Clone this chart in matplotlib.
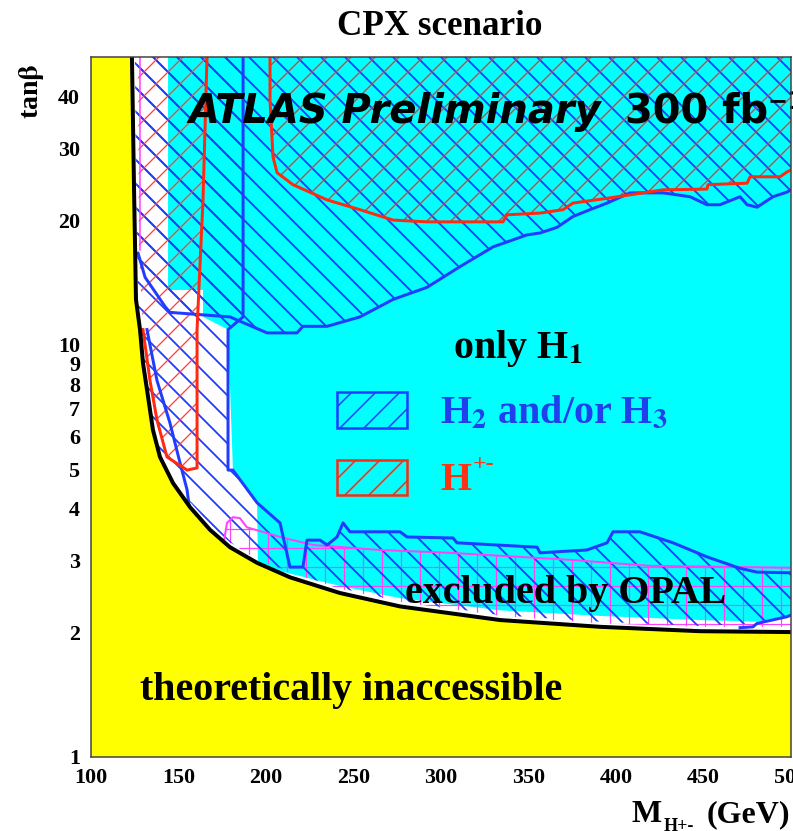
import numpy as np
import matplotlib
matplotlib.use('Agg')
import matplotlib.pyplot as plt
from matplotlib.patches import Polygon, Rectangle
from matplotlib.collections import LineCollection
from matplotlib.ticker import NullLocator

# lower tanb limit (black line), below it: theoretically inaccessible
boundary_m = [123.4, 124.6, 125.7, 128.0, 129.7, 132.6, 135.4, 139.4, 146.9, 156.6,
              168.0, 179.4, 194.9, 213.7, 242.3, 276.6, 333.7, 390.9, 448.0, 500.0]
boundary_tb = [50.0, 23.8, 12.9, 10.9, 9.05, 7.49, 6.22, 5.35, 4.62, 4.04,
               3.56, 3.23, 2.96, 2.73, 2.50, 2.32, 2.15, 2.07, 2.02, 2.01]

# cyan: only H1 observable
cyan_m = [144.0, 500.0, 500.0, 480.6, 448.0, 390.9, 333.7, 276.6, 242.3, 219.4,
          195.4, 194.9, 181.1, 178.3, 164.0, 164.0, 144.0]
cyan_tb = [50.0, 50.0, 2.21, 2.13, 2.15, 2.20, 2.27, 2.43, 2.60, 2.75,
           2.91, 4.14, 4.97, 10.9, 11.7, 13.6, 13.6]

# H2 and/or H3, high tanb region (lower edge)
h23_high_m = [500.0, 497.7, 489.7, 480.6, 474.9, 470.9, 459.4, 452.0, 442.3, 426.9,
              408.0, 394.9, 385.1, 375.4, 366.3, 356.6, 349.1, 329.7, 310.9, 292.0,
              272.6, 253.7, 234.9, 221.1, 217.7, 200.6, 179.4, 145.1, 142.3, 130.9, 126.9]
h23_high_tb = [23.8, 23.5, 22.9, 21.6, 21.9, 22.9, 21.9, 21.9, 22.9, 23.4,
               23.4, 22.1, 21.3, 20.5, 19.3, 18.7, 18.5, 17.3, 15.5, 13.8,
               12.9, 11.7, 11.1, 11.1, 10.7, 10.7, 11.7, 12.0, 12.4, 14.6, 16.7]

# H2 and/or H3, low mass strip + low tanb band (upper edge, then base)
h23_low_m = [186.9, 186.9, 178.3, 178.3, 181.1, 194.9, 208.0, 213.7, 221.1, 223.4,
             230.9, 234.9, 240.6, 244.0, 248.0, 276.6, 280.6, 306.9, 309.1, 354.9,
             356.6, 383.4, 394.9, 398.3, 413.7, 432.6, 452.0, 470.9, 480.6, 500.0]
h23_low_tb = [50.0, 11.7, 10.9, 4.97, 4.97, 4.14, 3.70, 2.89, 2.89, 3.36,
              3.36, 3.27, 3.42, 3.70, 3.52, 3.52, 3.42, 3.40, 3.31, 3.23,
              3.13, 3.18, 3.31, 3.52, 3.52, 3.31, 3.06, 2.87, 2.81, 2.80]
h23_base_m = [500.0, 480.6, 448.0, 390.9, 333.7, 276.6, 242.3, 213.7, 194.9, 179.4,
              168.0, 156.6, 146.9, 139.4, 135.4, 132.6, 129.7, 128.0, 126.9, 125.7, 125.1]
h23_base_tb = [2.21, 2.11, 2.08, 2.13, 2.21, 2.39, 2.57, 2.81, 3.04, 3.32,
               3.66, 4.16, 4.76, 5.50, 6.40, 7.69, 9.30, 11.2, 13.2, 23.8, 50.0]

h23_inner_m = [132.0, 137.7, 145.1, 150.9, 154.9, 156.6, 166.3]
h23_inner_tb = [10.9, 8.2, 6.47, 5.17, 4.45, 3.91, 3.56]
h23_corner_m = [470.9, 478.3, 480.6, 497.7, 500.0]
h23_corner_tb = [2.06, 2.07, 2.11, 2.19, 2.21]

# H+- observable
hpm_high_m = [202.3, 202.3, 204.0, 206.3, 215.4, 234.9, 253.7, 272.6, 292.0, 335.4,
              337.7, 356.6, 369.7, 375.4, 394.9, 426.9, 452.0, 452.6, 474.9, 476.6,
              493.7, 497.7, 500.0]
hpm_high_tb = [50.0, 39.3, 28.6, 26.2, 24.5, 22.5, 21.3, 20.1, 19.9, 19.9,
               20.7, 20.9, 21.3, 22.1, 22.7, 23.8, 23.9, 24.5, 24.7, 25.6,
               25.6, 26.3, 26.6]
hpm_low_m = [166.3, 164.0, 160.6, 160.6, 154.9, 143.4, 137.7, 133.7, 129.7]
hpm_low_tb = [50.0, 22.5, 10.9, 5.03, 4.97, 5.35, 6.58, 8.2, 10.9]
hpm_low_close_m = [127.4, 126.9]
hpm_low_close_tb = [17.0, 50.0]

# excluded by OPAL
opal_top_m = [166.3, 175.4, 177.7, 181.1, 185.1, 189.1, 208.0, 226.9, 265.1, 305.1,
              373.7, 419.4, 500.0]
opal_top_tb = [3.36, 3.23, 3.70, 3.82, 3.80, 3.61, 3.42, 3.27, 3.18, 3.13,
               3.01, 2.91, 2.88]
opal_bot_m = [500.0, 448.0, 390.9, 333.7, 276.6, 242.3, 213.7, 194.9, 179.4, 166.3]
opal_bot_tb = [2.07, 2.07, 2.11, 2.20, 2.38, 2.56, 2.80, 3.02, 3.31, 3.52]
opal_left_m = [128.0, 128.0]
opal_left_tb = [50.0, 17.0]

xticks = [100, 150, 200, 250, 300, 350, 400, 450, 500]
yticks = [1, 2, 3, 4, 5, 6, 7, 8, 9, 10, 20, 30, 40]

CYAN = '#00ffff'
YELLOW = '#ffff00'
BLUE = '#1f3cff'
RED = '#ff2a10'
PINK = '#ff40ff'
SERIF = 'Liberation Serif'

plt.rcParams['hatch.linewidth'] = 1.8


def pts(m, tb):
    return np.column_stack([m, tb])


def hatched(ax, xy, color, hatch, hlw, z):
    p = Polygon(xy, closed=True, facecolor='none', edgecolor=color,
                linewidth=0, hatch=hatch, zorder=z)
    try:
        p.set_hatch_linewidth(hlw)
    except AttributeError:
        pass
    ax.add_patch(p)
    return p


fig = plt.figure(figsize=(793 / 72, 831 / 72), dpi=72)
ax = fig.add_axes([91 / 793, 74 / 831, 700 / 793, 700 / 831])
ax.set_xlim(100, 500)
ax.set_yscale('log')
ax.set_ylim(1, 50)

# only H1
ax.add_patch(Polygon(pts(cyan_m, cyan_tb), closed=True, facecolor=CYAN,
                     edgecolor='none', zorder=1))

# OPAL grid, clipped to its region
opal_xy = np.vstack([pts(opal_top_m, opal_top_tb), pts(opal_bot_m, opal_bot_tb)])
opal_clip = Polygon(opal_xy, closed=True, facecolor='none', edgecolor='none', zorder=2)
ax.add_patch(opal_clip)
step = 19 / 700
gx = np.arange(0.1986 % step, 1.0, step)
gy = np.arange(0.0, 1.0, step)
segs = [[(x, 0), (x, 1)] for x in gx] + [[(0, y), (1, y)] for y in gy]
grid = LineCollection(segs, colors=PINK, linewidths=1.2, transform=ax.transAxes, zorder=2)
ax.add_collection(grid)
grid.set_clip_path(opal_clip)

# H2/H3 hatching
high_xy = np.vstack([[(126.3, 50.0), (500.0, 50.0)], pts(h23_high_m, h23_high_tb)])
hatched(ax, high_xy, BLUE, '\\', 1.8, 3)
low_xy = np.vstack([pts(h23_low_m, h23_low_tb), pts(h23_base_m, h23_base_tb)])
hatched(ax, low_xy, BLUE, '\\', 1.8, 3)

# H+- hatching
hpm_high_xy = np.vstack([pts(hpm_high_m, hpm_high_tb), [(500.0, 50.0)]])
hatched(ax, hpm_high_xy, '#e03a3a', '/', 1.3, 3.5)
hpm_low_xy = np.vstack([pts(hpm_low_m, hpm_low_tb), pts(hpm_low_close_m, hpm_low_close_tb)])
hatched(ax, hpm_low_xy, '#ff4040', '/', 1.3, 3.5)

# contours
ax.plot(opal_top_m, opal_top_tb, color=PINK, lw=2, zorder=4)
ax.plot(opal_left_m, opal_left_tb, color=PINK, lw=1.5, zorder=4)
ax.plot(h23_high_m, h23_high_tb, color=BLUE, lw=3, zorder=4.2)
ax.plot(h23_low_m, h23_low_tb, color=BLUE, lw=3, zorder=4.2)
ax.plot(h23_inner_m, h23_inner_tb, color=BLUE, lw=3, zorder=4.2)
ax.plot(h23_corner_m, h23_corner_tb, color=BLUE, lw=3, zorder=4.2)
ax.plot(hpm_high_m, hpm_high_tb, color=RED, lw=3, zorder=4.4)
ax.plot(hpm_low_m, hpm_low_tb, color=RED, lw=3, zorder=4.4)

# theoretically inaccessible
yel_m = [100.0, 100.0] + boundary_m + [500.0]
yel_tb = [1.0, 50.0] + boundary_tb + [1.0]
ax.add_patch(Polygon(pts(yel_m, yel_tb), closed=True, facecolor=YELLOW,
                     edgecolor='none', zorder=5))
ax.plot(boundary_m, boundary_tb, color='black', lw=4, zorder=6,
        solid_capstyle='butt')

# legend boxes
for yb, col in [(0.470, BLUE), (0.374, RED)]:
    r = Rectangle((0.351, yb), 0.101, 0.051, transform=ax.transAxes,
                  facecolor='none', edgecolor=col, lw=2.5, hatch='/', zorder=7)
    try:
        r.set_hatch_linewidth(1.5)
    except AttributeError:
        pass
    ax.add_patch(r)

bold_serif = dict(family=SERIF, fontweight='bold', math_fontfamily='stix')
ax.text(0.517, 0.570, r'only H$_{\mathbf{1}}$', transform=ax.transAxes,
        fontsize=40, color='black', va='baseline', zorder=8, **bold_serif)
ax.text(0.499, 0.477, r'H$_{\mathbf{2}}$ and/or H$_{\mathbf{3}}$', transform=ax.transAxes,
        fontsize=40, color='#2040ee', va='baseline', zorder=8, **bold_serif)
ax.text(0.499, 0.381, 'H', transform=ax.transAxes,
        fontsize=40, color='#ff3311', va='baseline', zorder=8, **bold_serif)
ax.text(0.545, 0.410, '+-', transform=ax.transAxes,
        fontsize=24, color='#ff3311', va='baseline', zorder=8, **bold_serif)
ax.text(0.449, 0.220, 'excluded by OPAL', transform=ax.transAxes,
        fontsize=40, color='black', va='baseline', zorder=8, **bold_serif)
ax.text(0.070, 0.081, 'theoretically inaccessible', transform=ax.transAxes,
        fontsize=40, color='black', va='baseline', zorder=8, **bold_serif)

ax.text(0.139, 0.906, 'ATLAS Preliminary', transform=ax.transAxes,
        family='DejaVu Sans', fontweight='bold', fontstyle='italic',
        fontsize=40, va='baseline', zorder=8)
ax.text(0.763, 0.906, '300 fb', transform=ax.transAxes,
        family='DejaVu Sans', fontweight='bold', fontsize=40, va='baseline', zorder=8)
ax.text(0.966, 0.926, '\u22121', transform=ax.transAxes, clip_on=False,
        family='DejaVu Sans', fontweight='bold', fontsize=24, va='baseline', zorder=8)

# axes cosmetics
ax.set_xticks(xticks)
ax.set_xticklabels([str(v) for v in xticks])
ax.set_yticks(yticks)
ax.set_yticklabels([str(v) for v in yticks])
ax.yaxis.set_minor_locator(NullLocator())
ax.tick_params(axis='both', length=0)
ax.tick_params(axis='x', pad=11)
ax.tick_params(axis='y', pad=11)
for lab in ax.get_xticklabels() + ax.get_yticklabels():
    lab.set_family(SERIF)
    lab.set_fontweight('bold')
    lab.set_fontsize(22)
for sp in ax.spines.values():
    sp.set_color('#404040')
    sp.set_linewidth(1.5)
    sp.set_zorder(10)

fig.text(0.555, 0.958, 'CPX scenario', ha='center', va='baseline',
         family=SERIF, fontweight='bold', fontsize=35)
fig.text(0.040, 0.890, r'tan$\mathbf{\beta}$', rotation=90, ha='center', va='center',
         fontsize=28, **bold_serif)

# x axis title: M with subscript H+-
fig.text(632 / 793, 9 / 831, 'M', ha='left', va='baseline',
         family=SERIF, fontweight='bold', fontsize=32)
fig.text(664 / 793, 0 / 831, 'H+-', ha='left', va='baseline',
         family=SERIF, fontweight='bold', fontsize=18)
fig.text(790 / 793, 9 / 831, '(GeV)', ha='right', va='baseline',
         family=SERIF, fontweight='bold', fontsize=32)

fig.savefig('out.png', dpi=72)
